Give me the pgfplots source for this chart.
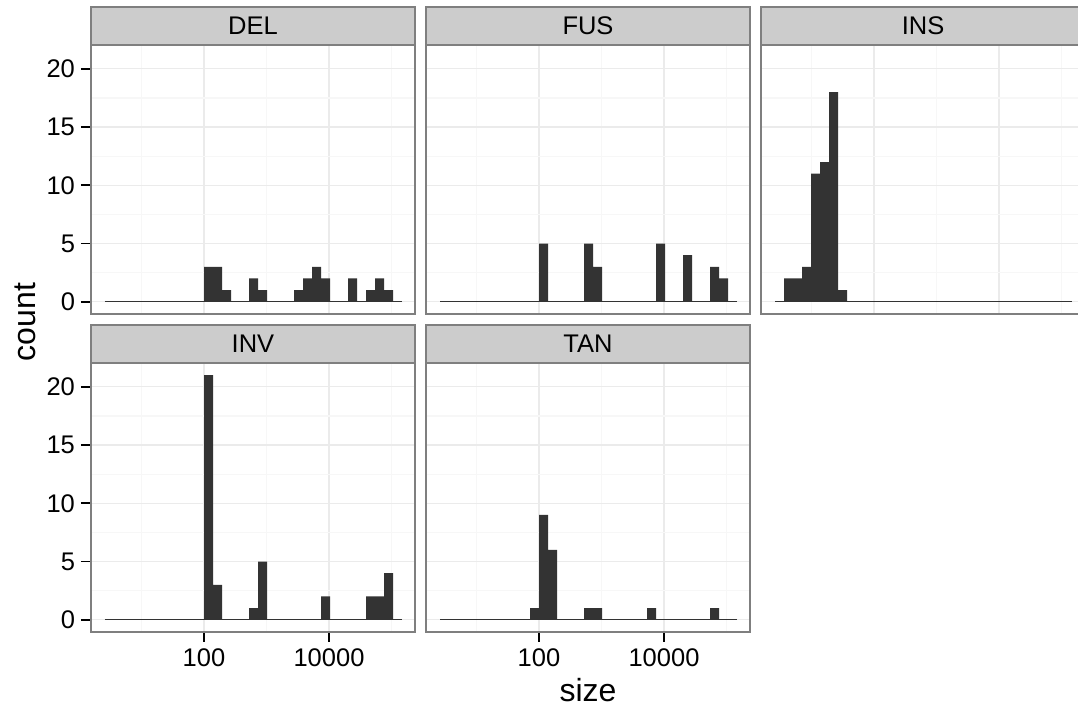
\documentclass[border=0pt]{standalone}
\usepackage{pgfplots}
\pgfplotsset{compat=1.18}
\usepackage{pgfplotstable}
\usepackage{fontspec}
\setmainfont{Liberation Sans}
\definecolor{barc}{HTML}{333333}
\definecolor{stripc}{HTML}{CCCCCC}
\definecolor{borderc}{HTML}{7F7F7F}
\definecolor{majgrid}{HTML}{EBEBEB}
\definecolor{mingrid}{HTML}{F7F7F7}

% log10(size) bin edges, 33 bins; last row closes the last bin
\pgfplotstableread{
edge  DEL FUS INS INV TAN
0.416 0 0 0 0 0
0.560 0 0 2 0 0
0.704 0 0 2 0 0
0.848 0 0 3 0 0
0.992 0 0 11 0 0
1.136 0 0 12 0 0
1.280 0 0 18 0 0
1.424 0 0 1 0 0
1.568 0 0 0 0 0
1.712 0 0 0 0 0
1.856 0 0 0 0 1
2.000 3 5 0 21 9
2.144 3 0 0 3 6
2.288 1 0 0 0 0
2.432 0 0 0 0 0
2.576 0 0 0 0 0
2.720 2 5 0 1 1
2.864 1 3 0 5 1
3.008 0 0 0 0 0
3.152 0 0 0 0 0
3.296 0 0 0 0 0
3.440 1 0 0 0 0
3.584 2 0 0 0 0
3.728 3 0 0 0 1
3.872 2 5 0 2 0
4.016 0 0 0 0 0
4.160 0 0 0 0 0
4.304 2 4 0 0 0
4.448 0 0 0 0 0
4.592 1 0 0 2 0
4.736 2 3 0 2 1
4.880 1 2 0 4 0
5.024 0 0 0 0 0
5.168 0 0 0 0 0
}\bins

\newcommand\ticksize{\fontsize{12.75}{15}\selectfont}
\newcommand\titlesize{\fontsize{16}{19}\selectfont}

\pgfplotsset{
  panel/.style={
    width=162pt, height=134.5pt, scale only axis,
    xmin=0.192, xmax=5.376, ymin=-1.05, ymax=22.05,
    xtick={2,4}, minor xtick={1,3,5},
    ytick={0,5,10,15,20}, minor ytick={2.5,7.5,12.5,17.5},
    xticklabels={}, yticklabels={},
    grid=both,
    major grid style={majgrid, line width=0.6pt},
    minor grid style={mingrid, line width=0.6pt},
    axis line style={borderc, line width=1pt},
    tick align=outside, tick pos=left,
    major tick length=5pt, minor tick length=0pt,
    xtick style={draw=none}, ytick style={draw=none},
    tick label style={font=\ticksize, text=black},
    yticklabel style={xshift=0.5pt},
    /pgf/number format/assume math mode=true,
  },
  xlab/.style={xticklabels={100,10000}, xtick style={draw=black, line width=0.9pt}},
  ylab/.style={yticklabels={0,5,10,15,20}, ytick style={draw=black, line width=0.9pt}},
}

\newcommand\hist[1]{%
  \addplot[barc, line width=0.6pt] coordinates {(0.416,0) (5.168,0)};
  \addplot[ybar interval, fill=barc, draw=none] table[x=edge, y=#1] {\bins};
}
\newcommand\strip[2]{%
  \draw[fill=stripc, draw=borderc, line width=1pt] (#1.north west) rectangle ([yshift=19pt]#1.north east);
  \node[font=\ticksize] at ([yshift=9.5pt]#1.north) {#2};
}

\begin{document}
\begin{tikzpicture}
\begin{axis}[panel, ylab, name=del, at={(45.5pt,-22.5pt)}, anchor=north west]
\hist{DEL}
\end{axis}
\begin{axis}[panel, name=fus, at={(213pt,-22.5pt)}, anchor=north west]
\hist{FUS}
\end{axis}
\begin{axis}[panel, name=ins, at={(380.5pt,-22.5pt)}, anchor=north west]
\hist{INS}
\end{axis}
\begin{axis}[panel, ylab, xlab, name=inv, at={(45.5pt,-181.5pt)}, anchor=north west]
\hist{INV}
\end{axis}
\begin{axis}[panel, xlab, name=tan, at={(213pt,-181.5pt)}, anchor=north west]
\hist{TAN}
\end{axis}
\strip{del}{DEL}
\strip{fus}{FUS}
\strip{ins}{INS}
\strip{inv}{INV}
\strip{tan}{TAN}
\node[font=\titlesize, rotate=90] at (12.5pt,-161pt) {count};
\node[font=\titlesize] at (294pt,-345pt) {size};
\pgfresetboundingbox
\useasboundingbox (0,0) rectangle (539pt,-355.5pt);
\end{tikzpicture}
\end{document}
